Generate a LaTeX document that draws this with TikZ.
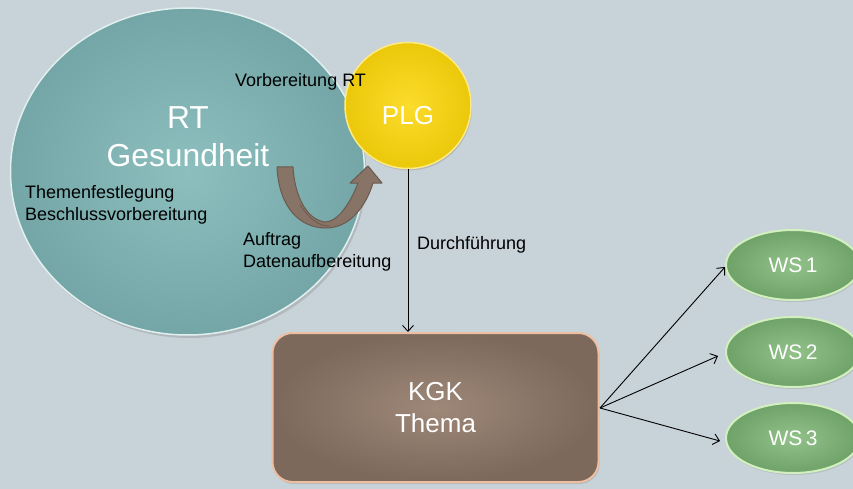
\documentclass[tikz,border=0pt]{standalone}
\usepackage{fontspec}
\setmainfont{Liberation Sans}
\usetikzlibrary{shapes.geometric,arrows.meta,shadows}
\definecolor{bgc}{HTML}{C8D3D9}
\definecolor{tealin}{HTML}{8DBFBF}
\definecolor{tealout}{HTML}{74A6A7}
\definecolor{yelin}{HTML}{FCDC2C}
\definecolor{yelout}{HTML}{EBC80A}
\definecolor{brin}{HTML}{9E8878}
\definecolor{brout}{HTML}{7C695C}
\definecolor{brrim}{HTML}{EDBFA0}
\definecolor{grin}{HTML}{92C28A}
\definecolor{grout}{HTML}{6FA268}
\definecolor{grrim}{HTML}{D2F0BE}
\definecolor{ribbon}{HTML}{887467}
\definecolor{ribbonedge}{HTML}{6B5A4F}
\tikzset{
  lbl/.style={font=\fontsize{18}{21.6}\selectfont, text=black, inner sep=0pt},
  bigtext/.style={font=\fontsize{31.8}{38}\selectfont, text=white, align=center},
  wstext/.style={font=\fontsize{21}{25}\selectfont, text=white},
  conn/.style={draw=black, line width=0.9pt, -{Straight Barb[length=6pt,width=11pt]}},
  wsnode/.style={ellipse, draw=grrim, line width=2pt, inner color=grin, outer color=grout,
     minimum width=134pt, minimum height=70pt, wstext, drop shadow={opacity=0.25,shadow xshift=1pt,shadow yshift=-2pt}},
}
\begin{document}
\begin{tikzpicture}[x=1pt,y=-1pt]
\fill[bgc] (0,0) rectangle (853,489);
\useasboundingbox (0,0) rectangle (853,489);
% big circle
\node[ellipse, draw=white!75!tealin, line width=1.5pt, inner color=tealin, outer color=tealout,
  minimum width=354pt, minimum height=327pt, drop shadow={opacity=0.3,shadow xshift=2pt,shadow yshift=-3pt}] (RT) at (187.5,171.5) {};
% PLG
\node[circle, draw=yelin!60!white, line width=1.5pt, inner color=yelin, outer color=yelout,
  minimum size=126pt, font=\fontsize{26}{31}\selectfont, text=white, text height=38pt, text depth=0pt,
  drop shadow={opacity=0.3,shadow xshift=1pt,shadow yshift=-2pt}] (PLG) at (408,105.5) {PLG};
% KGK box
\node[rectangle, rounded corners=20pt, draw=brrim, line width=2pt, inner color=brin, outer color=brout,
  minimum width=326pt, minimum height=149pt, font=\fontsize{26}{32}\selectfont, text=white, align=center,
  drop shadow={opacity=0.3,shadow xshift=1pt,shadow yshift=-2pt}] (KGK) at (435.5,407.5) {KGK\\Thema};
% WS nodes
\node[wsnode] (WS1) at (793,265) {WS\,1};
\node[wsnode] (WS2) at (793,352) {WS\,2};
\node[wsnode] (WS3) at (793,438) {WS\,3};
% RT text
\node[bigtext, anchor=base] (rtt) at (188,129) {RT};
\node[bigtext, anchor=base] (gest) at (188,167) {Gesundheit};
% curved ribbon arrow
\filldraw[fill=ribbon, draw=ribbonedge, line width=1pt, line join=round]
  (277,167) .. controls (279,208) and (300,228) .. (326,228)
  .. controls (350,228) and (366,206) .. (373,183)
  -- (382,183) -- (368,166) -- (350,183) -- (358,183)
  .. controls (350,204) and (338,221) .. (326,222)
  .. controls (309,221) and (295,200) .. (293,167) -- cycle;
\draw[ribbonedge, line width=0.8pt] (300,205) .. controls (312,222) and (320,226) .. (330,226);
% labels
\node[lbl, anchor=base west] (vor) at (235,87) {Vorbereitung RT};
\node[lbl, anchor=base west] (them) at (25,198) {Themenfestlegung};
\node[lbl, anchor=base west] (besch) at (25,220) {Beschlussvorbereitung};
\node[lbl, anchor=base west] (auf) at (243,245) {Auftrag};
\node[lbl, anchor=base west] (daten) at (243,267) {Datenaufbereitung};
\node[lbl, anchor=base west] (durch) at (417,249) {Durchführung};
% connectors
\draw[conn] (PLG.south) -- (PLG.south |- KGK.north);
\coordinate (fan) at (600,408);
\draw[conn] (fan) -- ([yshift=-2pt]WS1.west);
\draw[conn] (fan) -- ([xshift=-7pt,yshift=-4pt]WS2.west);
\draw[conn] (fan) -- ([xshift=-5pt,yshift=-3pt]WS3.west);
\end{tikzpicture}
\end{document}
